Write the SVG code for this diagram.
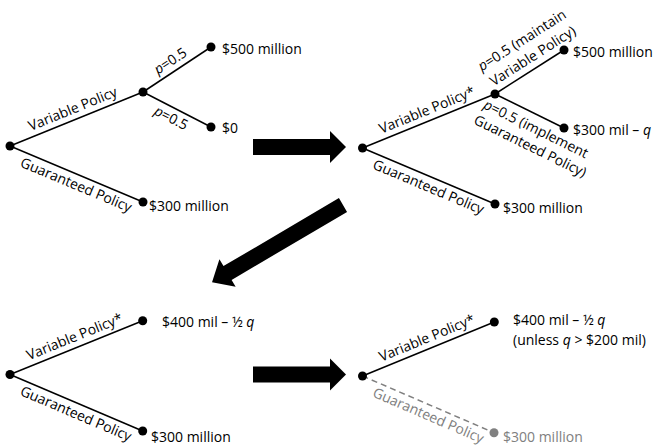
<svg xmlns="http://www.w3.org/2000/svg" width="656" height="448" viewBox="0 0 656 448">
<style>
text{font-family:"Open Sans","Liberation Sans",sans-serif;font-size:14px;fill:#000}
.br{stroke:#000;stroke-width:1.5;fill:none}
.dash{stroke:#808080;stroke-width:1.5;fill:none;stroke-dasharray:6,4}
.dot{fill:#000}
.gdot{fill:#808080}
.gtxt{fill:#808080}
.mid{text-anchor:middle}
.it{font-style:italic}
.arrow{fill:#000}
</style>
<rect width="656" height="448" fill="#fff"/>
<g id="connectors">
  <line class="br" x1="10" y1="146" x2="143" y2="92"/>
  <line class="br" x1="10" y1="146" x2="143" y2="202"/>
  <line class="br" x1="143" y1="92" x2="211" y2="47"/>
  <line class="br" x1="143" y1="92" x2="211" y2="127"/>
  <line class="br" x1="362.5" y1="148" x2="495" y2="94"/>
  <line class="br" x1="362.5" y1="148" x2="495" y2="204"/>
  <line class="br" x1="495" y1="94" x2="564" y2="50"/>
  <line class="br" x1="495" y1="94" x2="564" y2="128"/>
  <line class="br" x1="10" y1="374.5" x2="142.7" y2="320.7"/>
  <line class="br" x1="10" y1="374.5" x2="142.7" y2="431"/>
  <line class="br" x1="362.5" y1="376" x2="494.3" y2="322"/>
  <line class="dash" x1="362.5" y1="376" x2="494" y2="432.7"/>
</g>
<g id="arrows">
  <polygon class="arrow" transform="translate(253,147)" points="0,-8 77,-8 77,-16 93,0 77,16 77,8 0,8"/>
  <polygon class="arrow" transform="translate(343,205) rotate(149.5)" points="0,-8 134,-8 134,-16 152,0 134,16 134,8 0,8"/>
  <polygon class="arrow" transform="translate(253,374.5)" points="0,-8 77,-8 77,-16 93,0 77,16 77,8 0,8"/>
</g>
<g id="tree1">
  <g id="t1-root"><circle class="dot" cx="10" cy="146" r="4.5"/></g>
  <g id="t1-chance"><circle class="dot" cx="143" cy="92" r="4.5"/></g>
  <g id="t1-win"><circle class="dot" cx="211" cy="47" r="4.5"/><text x="222" y="53.5">$500 million</text></g>
  <g id="t1-lose"><circle class="dot" cx="211" cy="127" r="4.5"/><text x="222" y="132.5">$0</text></g>
  <g id="t1-guar"><circle class="dot" cx="143" cy="202" r="4.5"/><text x="149" y="211">$300 million</text></g>
  <text class="mid" transform="translate(10,146) rotate(-22.1)" x="72" y="-6">Variable Policy</text>
  <text class="mid" transform="translate(10,146) rotate(22.8)" x="76" y="15">Guaranteed Policy</text>
  <text class="mid" transform="translate(143,92) rotate(-33.5)" x="40" y="-6"><tspan class="it">p</tspan>=0.5</text>
  <text class="mid" transform="translate(143,92) rotate(27.2)" x="37" y="15"><tspan class="it">p</tspan>=0.5</text>
</g>
<g id="tree2">
  <g id="t2-root"><circle class="dot" cx="362.5" cy="148" r="4.5"/></g>
  <g id="t2-chance"><circle class="dot" cx="495" cy="94" r="4.5"/></g>
  <g id="t2-maintain"><circle class="dot" cx="564" cy="50" r="4.5"/><text x="573" y="57">$500 million</text></g>
  <g id="t2-implement"><circle class="dot" cx="564" cy="128" r="4.5"/><text x="573" y="135">$300 mil – <tspan class="it">q</tspan></text></g>
  <g id="t2-guar"><circle class="dot" cx="495" cy="204" r="4.5"/><text x="503" y="213">$300 million</text></g>
  <text class="mid" transform="translate(362.5,148) rotate(-22.2)" x="74" y="-6">Variable Policy*</text>
  <text class="mid" transform="translate(362.5,148) rotate(22.9)" x="76" y="15">Guaranteed Policy</text>
  <text transform="translate(495,94) rotate(-32.5)" x="1" y="-26"><tspan class="it">p</tspan>=0.5 (maintain</text>
  <text transform="translate(495,94) rotate(-32.5)" x="3" y="-7">Variable Policy)</text>
  <text transform="translate(495,94) rotate(26.2)" x="-5" y="18"><tspan class="it">p</tspan>=0.5 (implement</text>
  <text transform="translate(495,94) rotate(26.2)" x="-7" y="36">Guaranteed Policy)</text>
</g>
<g id="tree3">
  <g id="t3-root"><circle class="dot" cx="10" cy="374.5" r="4.5"/></g>
  <g id="t3-var"><circle class="dot" cx="142.7" cy="320.7" r="4.5"/><text x="162" y="327">$400 mil – ½ <tspan class="it">q</tspan></text></g>
  <g id="t3-guar"><circle class="dot" cx="142.7" cy="431" r="4.5"/><text x="151" y="442">$300 million</text></g>
  <text class="mid" transform="translate(10,374.5) rotate(-22.07)" x="74" y="-6">Variable Policy*</text>
  <text class="mid" transform="translate(10,374.5) rotate(23.06)" x="76" y="15">Guaranteed Policy</text>
</g>
<g id="tree4">
  <g id="t4-root"><circle class="dot" cx="362.5" cy="376" r="4.5"/></g>
  <g id="t4-var"><circle class="dot" cx="494.3" cy="322" r="4.5"/><text x="513" y="325">$400 mil – ½ <tspan class="it">q</tspan></text><text x="513" y="344.5">(unless <tspan class="it">q</tspan> &gt; $200 mil)</text></g>
  <g id="t4-guar"><circle class="gdot" cx="494" cy="432.7" r="4.5"/><text class="gtxt" x="503" y="442">$300 million</text></g>
  <text class="mid" transform="translate(362.5,376) rotate(-22.28)" x="74" y="-6">Variable Policy*</text>
  <text class="mid gtxt" transform="translate(362.5,376) rotate(23.3)" x="76" y="15">Guaranteed Policy</text>
</g>
</svg>
